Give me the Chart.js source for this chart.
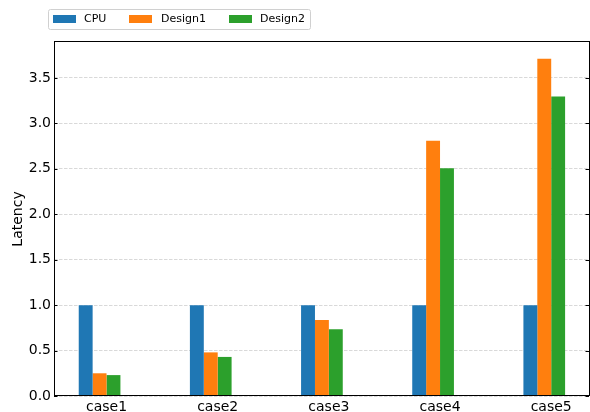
<!DOCTYPE html>
<html><head><meta charset="utf-8">
<script src="https://cdn.jsdelivr.net/npm/chart.js@4/dist/chart.umd.min.js"></script>
<style>html,body{margin:0;padding:0;background:#fff}</style>
</head><body>
<canvas id="c" width="590" height="412"></canvas>
<script>
const categories = ['case1', 'case2', 'case3', 'case4', 'case5'];
const seriesNames = ['CPU', 'Design1', 'Design2'];
const cpu = [1, 1, 1, 1, 1];
const design1 = [0.25, 0.48, 0.835, 2.81, 3.71];
const design2 = [0.23, 0.43, 0.735, 2.505, 3.295];
const yTicks = [0, 0.5, 1.0, 1.5, 2.0, 2.5, 3.0, 3.5];
const colors = ['#1f77b4', '#ff7f0e', '#2ca02c'];
const yMax = 3.71 * 1.05;
const xMin = -0.4725, xMax = 4.34;

const toPts = arr => arr.map((v, i) => ({x: i, y: v}));
const FONT = 'DejaVu Sans';

const framePlugin = {
  id: 'frame',
  afterDraw(chart) {
    const {ctx, chartArea: a, scales: {y}} = chart;
    ctx.save();
    ctx.strokeStyle = '#000';
    ctx.lineWidth = 1;
    ctx.beginPath();
    yTicks.forEach(v => {
      const py = Math.round(y.getPixelForValue(v)) + 0.5;
      ctx.moveTo(a.left, py); ctx.lineTo(a.left + 3.5, py);
      ctx.moveTo(a.right, py); ctx.lineTo(a.right - 3.5, py);
    });
    ctx.stroke();
    ctx.strokeRect(a.left + 0.5, a.top - 0.5, a.right - a.left, a.bottom - a.top);
    // legend
    const lx = 48.5, ly = 9.5, lw = 262, lh = 20;
    ctx.fillStyle = 'rgba(255,255,255,0.8)';
    ctx.strokeStyle = '#d0d0d0';
    ctx.beginPath();
    ctx.roundRect(lx, ly, lw, lh, 2);
    ctx.fill(); ctx.stroke();
    const patchX = [53, 129, 229];
    const textX = [84, 161, 260];
    ctx.font = '11px "' + FONT + '"';
    ctx.textBaseline = 'middle';
    ctx.textAlign = 'left';
    seriesNames.forEach((n, i) => {
      ctx.fillStyle = colors[i];
      ctx.fillRect(patchX[i], 15, 23, 8);
      ctx.fillStyle = '#000';
      ctx.fillText(n, textX[i], 19.5);
    });
    ctx.restore();
  }
};

new Chart(document.getElementById('c'), {
  type: 'bar',
  data: {
    datasets: [
      {label: seriesNames[0], data: toPts(cpu), backgroundColor: colors[0]},
      {label: seriesNames[1], data: toPts(design1), backgroundColor: colors[1]},
      {label: seriesNames[2], data: toPts(design2), backgroundColor: colors[2]},
      {label: '', data: [], backgroundColor: 'rgba(0,0,0,0)'}
    ]
  },
  options: {
    responsive: false,
    animation: false,
    categoryPercentage: 0.5,
    barPercentage: 1.0,
    borderWidth: 0,
    layout: {padding: {top: 42, right: 1, left: 0, bottom: 0}},
    plugins: {legend: {display: false}, tooltip: {enabled: false}},
    scales: {
      x: {
        type: 'linear',
        min: xMin, max: xMax,
        offset: false,
        grid: {display: false, drawTicks: false, offset: false},
        border: {display: false},
        afterBuildTicks: s => { s.ticks = categories.map((_, i) => ({value: i})); },
        afterFit: s => { s.height = 16; },
        ticks: {
          maxRotation: 0, autoSkip: false, padding: 3,
          color: '#000', font: {family: FONT, size: 14},
          callback: v => categories[Math.round(v)] ?? ''
        }
      },
      y: {
        min: 0, max: yMax,
        grid: {color: '#d9d9d9', lineWidth: 1, drawTicks: false},
        border: {display: false, dash: [3.5, 1.5]},
        afterBuildTicks: s => { s.ticks = yTicks.map(v => ({value: v})); },
        afterFit: s => { s.width = 54; },
        ticks: {
          padding: 3, color: '#000', font: {family: FONT, size: 14},
          callback: v => Number(v).toFixed(1)
        },
        title: {
          display: true, text: 'Latency', color: '#000',
          font: {family: FONT, size: 14}, padding: {top: 10, bottom: 0}
        }
      }
    }
  },
  plugins: [framePlugin]
});
</script>
</body></html>
